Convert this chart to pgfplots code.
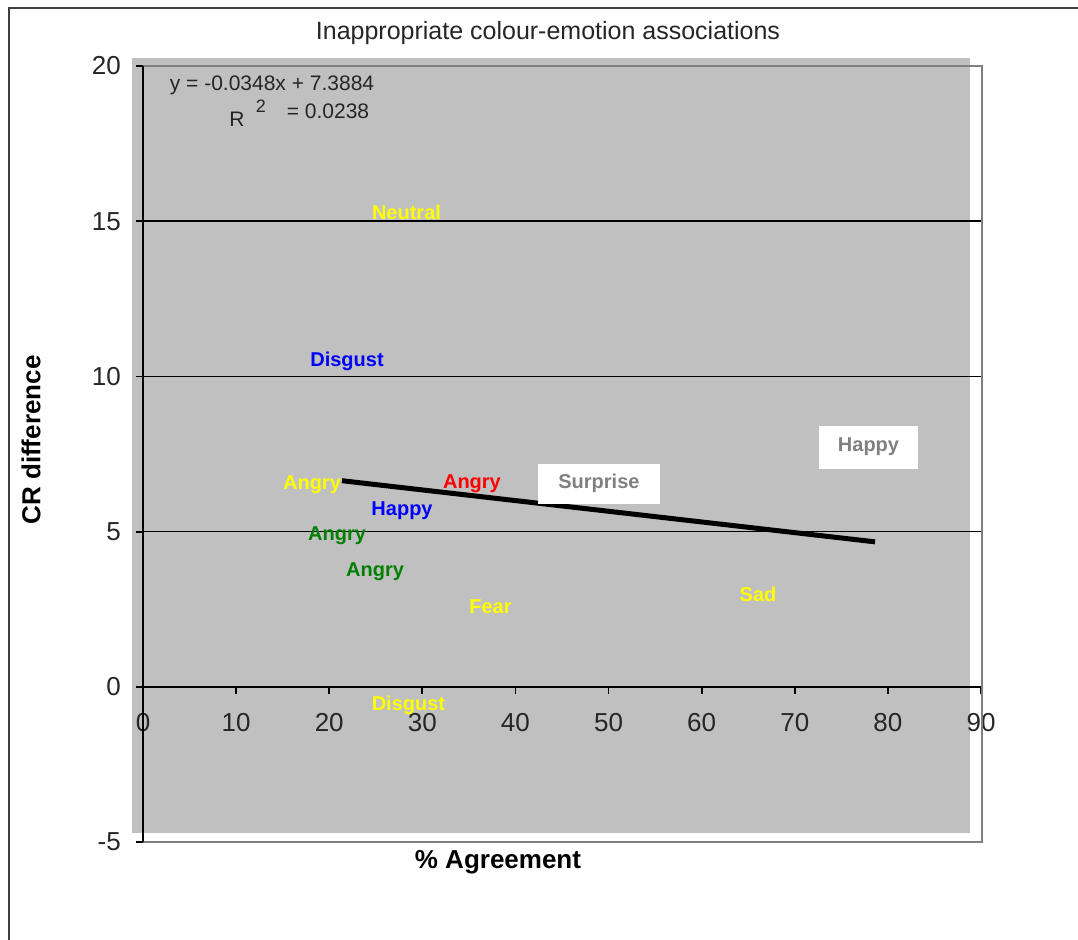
\documentclass[border=0pt]{standalone}
\usepackage{pgfplots}
\pgfplotsset{compat=1.18}
\usepackage{fontspec}
\setmainfont{Liberation Sans}
\definecolor{plotgrey}{HTML}{C0C0C0}
\definecolor{framegrey}{HTML}{808080}
\definecolor{dgreen}{HTML}{008000}
\definecolor{yel}{HTML}{FFFF00}
\definecolor{blu}{HTML}{0000FF}
\definecolor{rd}{HTML}{FF0000}

\pgfplotstableread{
x y label
28.30 15.27 Neutral
18.15 6.51 Angry
37.32 2.58 Fear
66.05 2.98 Sad
28.51 -0.60 Disgust
}\yellowdata
\pgfplotstableread{
x y label
21.91 10.47 Disgust
27.82 5.67 Happy
}\bluedata
\pgfplotstableread{
x y label
35.33 6.54 Angry
}\reddata
\pgfplotstableread{
x y label
20.84 4.86 Angry
24.92 3.70 Angry
}\greendata
\pgfplotstableread{
x y label
48.97 6.54 Surprise
}\surprisedata
\pgfplotstableread{
x y label
77.92 7.72 Happy
}\happydata

\begin{document}
\begin{tikzpicture}[x=1pt,y=1pt]
\useasboundingbox (0,0) rectangle (1078,-939);
\fill[white] (0,0) rectangle (1078,-939);
\draw[line width=2pt, black!75] (9,-945) -- (9,-8) -- (1085,-8);
\fill[plotgrey] (132,-58) rectangle (970,-833);
\begin{axis}[
  at={(143pt,-842pt)}, anchor=south west,
  width=838pt, height=776pt, scale only axis,
  xmin=0, xmax=90, ymin=-5, ymax=20,
  axis x line=middle, axis y line=left,
  axis line style={-, line width=2pt, black},
  xtick={0,10,...,90}, ytick={-5,0,...,20},
  tick align=outside,
  major tick length=7pt,
  tick style={black, line width=1.8pt},
  hide obscured x ticks=false,
  clip=false,
  /pgf/number format/assume math mode=true,
  tick label style={font=\fontsize{26}{30}\selectfont, text=black!85},
  xticklabel style={anchor=north, inner sep=0pt},
  yticklabel style={anchor=east, inner sep=0pt},
  xticklabel shift=19pt,
  yticklabel shift=15pt,
  nodes near coords align={center},
  point meta=explicit symbolic,
]
\draw[black, line width=1.5pt] (axis cs:0,5) -- (axis cs:90,5);
\draw[black, line width=1.5pt] (axis cs:0,10) -- (axis cs:90,10);
\draw[black, line width=1.5pt] (axis cs:0,15) -- (axis cs:90,15);
\addplot[black, line width=5pt, mark=none] coordinates {(21.37,6.64) (78.62,4.67)};
\addplot[draw=none, mark=none, nodes near coords,
  nodes near coords style={text=yel, font=\bfseries\fontsize{20}{24}\selectfont}]
  table[meta=label] {\yellowdata};
\addplot[draw=none, mark=none, nodes near coords,
  nodes near coords style={text=blu, font=\bfseries\fontsize{20}{24}\selectfont}]
  table[meta=label] {\bluedata};
\addplot[draw=none, mark=none, nodes near coords,
  nodes near coords style={text=rd, font=\bfseries\fontsize{20}{24}\selectfont}]
  table[meta=label] {\reddata};
\addplot[draw=none, mark=none, nodes near coords,
  nodes near coords style={text=dgreen, font=\bfseries\fontsize{20}{24}\selectfont}]
  table[meta=label] {\greendata};
\addplot[draw=none, mark=none, nodes near coords,
  nodes near coords style={text=framegrey, fill=white, minimum width=122pt, minimum height=40pt, font=\bfseries\fontsize{20}{24}\selectfont}]
  table[meta=label] {\surprisedata};
\addplot[draw=none, mark=none, nodes near coords,
  nodes near coords style={text=framegrey, fill=white, minimum width=99pt, minimum height=43pt, font=\bfseries\fontsize{20}{24}\selectfont}]
  table[meta=label] {\happydata};
\end{axis}
\draw[framegrey, line width=2.5pt] (137,-66) -- (982,-66) -- (982,-842) -- (143,-842);
\draw[black, line width=2pt] (143,-66) -- (143,-842);
\draw[black, line width=1.8pt] (136,-66) -- (143,-66);
\draw[black, line width=1.8pt] (136,-842) -- (143,-842);
\node[font=\fontsize{25}{30}\selectfont, text=black!85] at (548,-33) {Inappropriate colour-emotion associations};
\node[font=\bfseries\fontsize{26}{30}\selectfont, rotate=90] at (31,-440) {CR difference};
\node[font=\bfseries\fontsize{26}{30}\selectfont] at (498,-862) {\% Agreement};
\node[font=\fontsize{21}{24}\selectfont, text=black!85] at (272,-85) {y = -0.0348x + 7.3884};
\node[font=\fontsize{21}{24}\selectfont, text=black!85] at (237,-119) {R};
\node[font=\fontsize{18}{20}\selectfont, text=black!85] at (261,-106) {2};
\node[font=\fontsize{21}{24}\selectfont, text=black!85] at (328,-111.5) {= 0.0238};
\end{tikzpicture}
\end{document}
